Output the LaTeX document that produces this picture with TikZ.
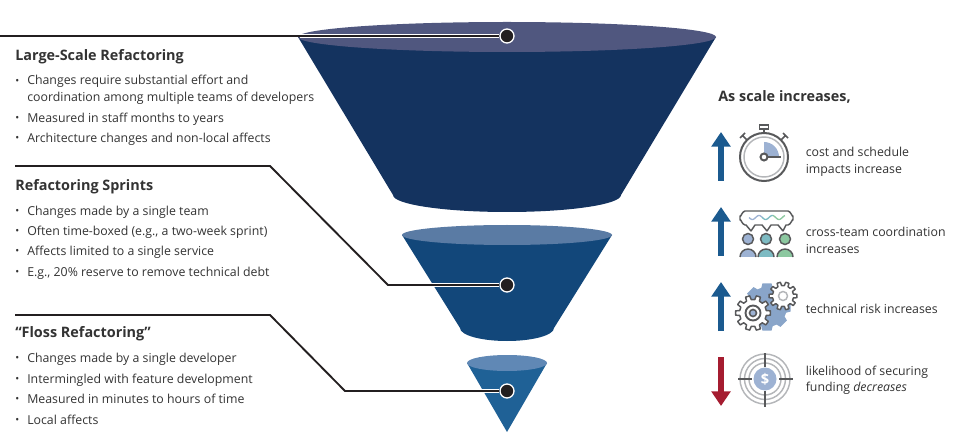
\documentclass[tikz,border=0pt]{standalone}
\usepackage{fontspec}
\setmainfont{Open Sans}
\usetikzlibrary{arrows.meta}
\definecolor{txtgray}{HTML}{333333}
\definecolor{leadblack}{HTML}{231F20}
\definecolor{bigbody}{HTML}{14335F}
\definecolor{bigtop}{HTML}{50577F}
\definecolor{midbody}{HTML}{12477A}
\definecolor{midtop}{HTML}{5A7BA4}
\definecolor{smallbody}{HTML}{1F6196}
\definecolor{smalltop}{HTML}{6088B5}
\definecolor{arrowblue}{HTML}{1B5A8F}
\definecolor{arrowred}{HTML}{A51C30}
\definecolor{icongray}{HTML}{58595B}
\definecolor{ringgray}{HTML}{B4B6B9}
\definecolor{iconblue}{HTML}{9DB2D3}
\definecolor{iconteal}{HTML}{7DBBC3}
\definecolor{icongreen}{HTML}{8CC8A0}
\tikzset{
  headtext/.style={anchor=base west, inner sep=0pt, font=\fontsize{10.8}{12}\selectfont\bfseries, text=txtgray},
  itemtext/.style={anchor=base west, inner sep=0pt, font=\fontsize{9.25}{11}\selectfont, text=txtgray},
  leadline/.style={leadblack, line width=1.4pt},
  halo/.style={white, line width=3.2pt},
  leaddot/.style={circle, fill=leadblack, draw=white, line width=1pt, minimum size=10.5pt, inner sep=0pt},
  scalearrow/.style={line width=4.5pt, -{Triangle[length=11pt, width=14pt]}},
  iconline/.style={icongray, line width=1.1pt},
}
\newcommand{\bul}{\makebox[9pt][l]{\raisebox{0.4pt}{\scalebox{0.85}{\textbullet}}}}
\newcommand{\gearicon}[5]{% style, teeth, outer radius, inner radius, half tooth angle
  \draw[#1] ({-#5*1.5}:#4) \foreach \i in {1,...,#2} {
    -- ({(\i-1)*360/#2-#5}:#3) -- ({(\i-1)*360/#2+#5}:#3)
    -- ({(\i-1)*360/#2+#5*1.5}:#4) -- ({\i*360/#2-#5*1.5}:#4)
  } -- cycle;}
\begin{document}
\begin{tikzpicture}[x=0.75pt, y=-0.75pt]
    \useasboundingbox (0,0) rectangle (960,445);

    % cones
    \fill[bigbody] (298,37) -- (393,195) arc (180:0:114 and 17) -- (716,37) -- cycle;
    \fill[bigtop] (507,37) ellipse (209 and 15);
    \fill[midbody] (402,235) -- (460,328) arc (180:0:47 and 13) -- (612,235) -- cycle;
    \fill[midtop] (507,235) ellipse (105 and 10);
    \fill[smallbody] (467,363) -- (507,432) -- (547,363) -- cycle;
    \fill[smalltop] (507,363) ellipse (40 and 8);

    % leader lines
    \coordinate (bigstart) at (0,36);
    \coordinate (bigedge) at (300,36);
    \coordinate (midstart) at (15,166);
    \coordinate (midbend) at (270,166);
    \coordinate (midfoot) at (388,285);
    \coordinate (midedge) at (432,285);
    \coordinate (smallstart) at (15,315);
    \coordinate (smallbend) at (270,315);
    \coordinate (smallfoot) at (345,391);
    \coordinate (smalledge) at (482,391);
    \node [leaddot] (bigdot) at (507,36) {};
    \node [leaddot] (middot) at (507,285) {};
    \node [leaddot] (smalldot) at (507,391) {};
    \draw[halo] (bigedge) -- (bigdot);
    \draw[halo] (midedge) -- (middot);
    \draw[halo] (smalledge) -- (smalldot);
    \draw[leadline] (bigstart) -- (bigdot);
    \draw[leadline] (midstart) -- (midbend) -- (midfoot) -- (middot);
    \draw[leadline] (smallstart) -- (smallbend) -- (smallfoot) -- (smalldot);

    % left text
    \node [headtext] (bighead) at (15,60.5) {Large-Scale Refactoring};
    \node [itemtext] (bigone) at (15,85) {\bul Changes require substantial effort and};
    \node [itemtext] (bigtwo) at (15,102) {\hspace*{9pt}coordination among multiple teams of developers};
    \node [itemtext] (bigthree) at (15,122.5) {\bul Measured in staff months to years};
    \node [itemtext] (bigfour) at (15,142.5) {\bul Architecture changes and non-local affects};

    \node [headtext] (midhead) at (15,190.5) {Refactoring Sprints};
    \node [itemtext] (midone) at (15,215.5) {\bul Changes made by a single team};
    \node [itemtext] (midtwo) at (15,235.5) {\bul Often time-boxed (e.g., a two-week sprint)};
    \node [itemtext] (midthree) at (15,255.5) {\bul Affects limited to a single service};
    \node [itemtext] (midfour) at (15,276.5) {\bul E.g., 20\% reserve to remove technical debt};

    \node [headtext] (smallhead) at (15,337.5) {“Floss Refactoring”};
    \node [itemtext] (smallone) at (15,362.5) {\bul Changes made by a single developer};
    \node [itemtext] (smalltwo) at (15,383.5) {\bul Intermingled with feature development};
    \node [itemtext] (smallthree) at (15,403.5) {\bul Measured in minutes to hours of time};
    \node [itemtext] (smallfour) at (15,424.5) {\bul Local affects};

    % right text
    \node [headtext] (scalehead) at (718,101.5) {As scale increases,};
    \node [itemtext] (costone) at (805.5,157) {cost and schedule};
    \node [itemtext] (costtwo) at (805.5,174) {impacts increase};
    \node [itemtext] (crossone) at (805.5,237) {cross-team coordination};
    \node [itemtext] (crosstwo) at (805.5,254) {increases};
    \node [itemtext] (riskone) at (805.5,314) {technical risk increases};
    \node [itemtext] (fundone) at (805.5,375) {likelihood of securing};
    \node [itemtext] (fundtwo) at (805.5,391) {funding \textit{decreases}};

    % arrows
    \draw[scalearrow, arrowblue] (721,181) -- (721,132);
    \draw[scalearrow, arrowblue] (721,256) -- (721,207);
    \draw[scalearrow, arrowblue] (721,331) -- (721,282);
    \draw[scalearrow, arrowred] (721,357) -- (721,406);

    % stopwatch
    \begin{scope}[shift={(764,157)}]
    \fill[iconblue] (0,0) -- (0,-15) arc (-90:0:15) -- cycle;
    \draw[ringgray, line width=1.1pt] (0,0) circle (20);
    \draw[iconline, line width=1.5pt] (0,0) circle (24);
    \draw[iconline] (-4.5,-32) rectangle (4.5,-28);
    \draw[iconline] (0,-28) -- (0,-24);
    \draw[iconline] (-17,-17) -- (-21,-21) (-24,-19) -- (-19,-24);
    \draw[iconline] (17,-17) -- (21,-21) (24,-19) -- (19,-24);
    \draw[iconline, line width=1.5pt] (3,0) -- (17,0);
    \draw[iconline, fill=white, line width=1.5pt] (0,0) circle (3.5);
    \end{scope}

    % people and speech bubble
    \draw[iconline, line join=round] (745,211) -- (788,211) to[out=0, in=-90] (793,216) -- (793,220)
      to[out=90, in=0] (788,225) -- (786,225) -- (783,231) -- (778,225) -- (771,225) -- (767,231) -- (762,225)
      -- (755,225) -- (751,231) -- (746,225) -- (745,225) to[out=180, in=90] (740,220) -- (740,216)
      to[out=-90, in=180] cycle;
    \draw[iconblue, line width=1pt] plot[variable=\t, domain=749:762, samples=30, smooth] ({\t}, {217.5+2*sin(27*(\t-749))});
    \draw[iconteal, line width=1pt] plot[variable=\t, domain=762:773, samples=30, smooth] ({\t}, {217.5+2*sin(27*(\t-749))});
    \draw[icongreen, line width=1pt] plot[variable=\t, domain=773:785, samples=30, smooth] ({\t}, {217.5+2*sin(27*(\t-749))});
    \draw[iconline, fill=iconblue] (748,239) circle (5.5);
    \draw[iconline, fill=iconteal] (766,239) circle (5.5);
    \draw[iconline, fill=icongreen] (785,239) circle (5.5);
    \fill[iconblue] (740,257) arc (180:360:8) -- cycle;
    \fill[iconteal] (758,257) arc (180:360:8) -- cycle;
    \fill[icongreen] (777,257) arc (180:360:8) -- cycle;
    \draw[iconline] (740,257) arc (180:360:8);
    \draw[iconline] (758,257) arc (180:360:8);
    \draw[iconline] (777,257) arc (180:360:8);

    % gears
    \begin{scope}[shift={(767,307)}]
    \gearicon{fill=iconblue!85!arrowblue, draw=none}{8}{24}{20}{11}
    \end{scope}
    \begin{scope}[shift={(753,313)}]
    \gearicon{iconline, fill=white, line join=round}{10}{17.5}{13.5}{7}
    \draw[iconline, line width=1.4pt] (0,0) circle (7.5);
    \draw[iconline, fill=iconblue, line width=1.2pt] (0,0) circle (3.5);
    \end{scope}
    \begin{scope}[shift={(783,296)}]
    \gearicon{iconline, fill=white, line join=round}{10}{14}{10.5}{7}
    \draw[ringgray, fill=white, line width=1.1pt] (0,0) circle (4.5);
    \end{scope}

    % target
    \begin{scope}[shift={(765,379)}]
    \draw[ringgray, line width=1.1pt] (0,0) circle (25);
    \draw[ringgray, line width=1.1pt] (0,0) circle (20.5);
    \draw[ringgray, line width=1.1pt] (0,0) circle (16);
    \fill[iconblue] (0,0) circle (11.5);
    \draw[iconline] (0,-26) -- (0,-12) (0,12) -- (0,28) (-27,0) -- (-13,0) (14,0) -- (28,0);
    \node [white, inner sep=0pt, font=\fontsize{11}{12}\selectfont\bfseries] (dollar) at (0,0) {\$};
    \end{scope}
\end{tikzpicture}
\end{document}
